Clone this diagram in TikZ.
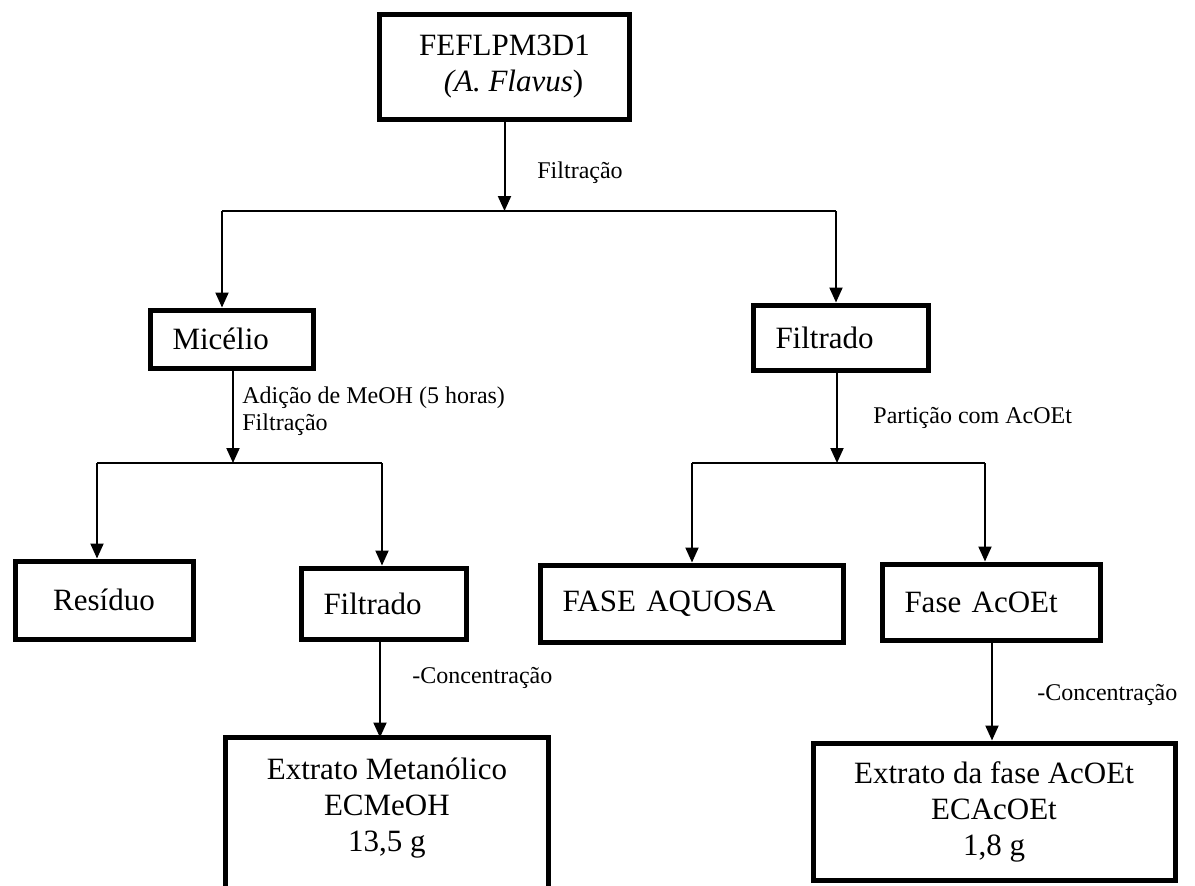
\documentclass[tikz,border=0pt]{standalone}
\usepackage{fontspec}
\setmainfont{Liberation Serif}
\usetikzlibrary{arrows.meta}
\newcommand\bigtxt{\fontsize{15.5}{18}\selectfont}
\newcommand\lbltxt{\fontsize{12}{14}\selectfont}
\tikzset{
  boxline/.style={line width=2.5pt},
  bx/.style={draw, line width=2.5pt, inner sep=0pt, font=\bigtxt},
  bxtext/.style={inner sep=0pt, font=\bigtxt},
  conn/.style={line width=1pt},
  arr/.style={line width=1pt, -{Triangle[width=6.5pt,length=7.5pt]}},
  lbl/.style={font=\lbltxt, inner sep=0pt, anchor=base west},
}
\begin{document}
\begin{tikzpicture}[x=0.5pt,y=-0.5pt]
\useasboundingbox (0,0) rectangle (1195,885);
% boxes
\node[bx, minimum width=125pt, minimum height=52.5pt, align=center] (top) at (504.5,67)
  {FEFLPM3D1\\\hspace*{9pt}\textit{(A. Flavus})};
\node[bx, anchor=north west, minimum width=81.5pt, minimum height=29pt, inner xsep=11.25pt, text width=59pt, align=left] (mic) at (147.5,307.5) {Micélio};
\node[bx, anchor=north west, minimum width=87.5pt, minimum height=32.5pt, inner xsep=11.25pt, text width=65pt, align=left] (filR) at (750.5,302.5) {Filtrado};
\node[bx, anchor=north west, minimum width=89pt, minimum height=39pt] (res) at (12.5,558.5) {Resíduo};
\node[bx, anchor=north west, minimum width=82.5pt, minimum height=35.5pt, inner xsep=11.25pt, text width=60pt, align=left] (filL) at (298.5,565.5) {Filtrado};
\node[bx, anchor=north west, minimum width=151.5pt, minimum height=38.5pt, inner xsep=11.25pt, text width=129pt, align=left] (fa) at (537.5,562.5) {FASE AQUOSA};
\node[bx, anchor=north west, minimum width=109pt, minimum height=38pt, inner xsep=11.25pt, text width=86.5pt, align=left] (fe) at (879.5,561.5) {Fase AcOEt};
\node[bxtext, anchor=north west, minimum width=161pt, minimum height=70pt, align=center] (em) at (225.5,737.5)
  {Extrato Metanólico\\ECMeOH\\13,5 g};
\draw[boxline] ([yshift=-12pt]em.south west) -- (em.north west) -- (em.north east) -- ([yshift=-12pt]em.south east);
\node[bx, anchor=north west, minimum width=181pt, minimum height=68.5pt, align=center] (ea) at (810.5,740.5)
  {Extrato da fase AcOEt\\ECAcOEt\\1,8 g};
% connectors
\coordinate (j1) at (504.5,211);
\coordinate (j1l) at (222,211);
\coordinate (j1r) at (836,211);
\draw[arr] (top.south) -- (j1);
\draw[conn] (j1l) -- (j1r);
\draw[arr] (j1l) -- (j1l |- mic.north);
\draw[arr] (j1r) -- (j1r |- filR.north);
\coordinate (j2) at (233,463);
\coordinate (j2l) at (97,463);
\coordinate (j2r) at (382,463);
\draw[arr] (mic.south -| j2) -- (j2);
\draw[conn] (j2l) -- (j2r);
\draw[arr] (j2l) -- (j2l |- res.north);
\draw[arr] (j2r) -- (j2r |- filL.north);
\coordinate (a3) at (380,0);
\draw[arr] (filL.south -| a3) -- (em.north -| a3);
\coordinate (j3) at (837,463);
\coordinate (j3l) at (692,463);
\coordinate (j3r) at (985,463);
\draw[arr] (filR.south -| j3) -- (j3);
\draw[conn] (j3l) -- (j3r);
\draw[arr] (j3l) -- (j3l |- fa.north);
\draw[arr] (j3r) -- (j3r |- fe.north);
\coordinate (a4) at (992,0);
\draw[arr] (fe.south -| a4) -- (ea.north -| a4);
% labels
\node[lbl] (l1) at (537,178) {Filtração};
\node[lbl] (l2a) at (242,403) {Adição de MeOH (5 horas)};
\node[lbl] (l2b) at (242,430) {Filtração};
\node[lbl] (l3) at (873,423) {Partição com AcOEt};
\node[lbl] (l4) at (412,683) {-Concentração};
\node[lbl] (l5) at (1037,700) {-Concentração};
\end{tikzpicture}
\end{document}
